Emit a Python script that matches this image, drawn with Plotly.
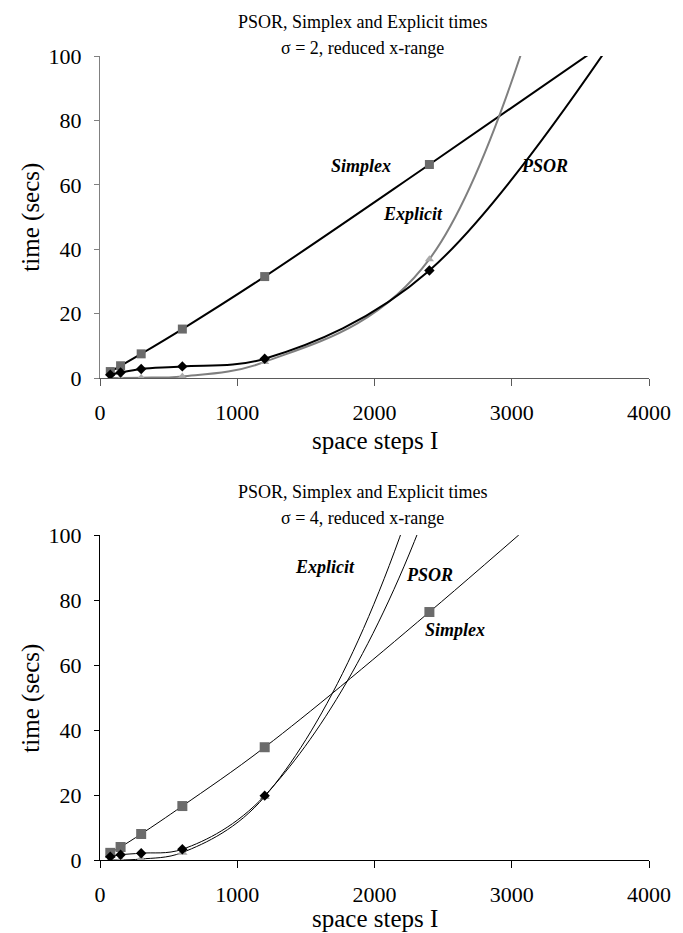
import plotly.graph_objects as go

# ---- data ----
steps = [75, 150, 300, 600, 1200, 2400, 4800]

simplex_s2 = [2.0, 3.8, 7.5, 15.2, 31.5, 66.3, 137]
psor_s2 = [1.0, 1.7, 2.8, 3.6, 6.0, 33.4, 175]
explicit_s2 = [0.0, 0.0, 0.1, 0.5, 5.0, 36.9, 420]

simplex_s4 = [2.2, 4.0, 8.0, 16.6, 34.7, 76.3, 165]
psor_s4 = [1.0, 1.6, 2.1, 3.3, 19.8, 110, 620]
explicit_s4 = [0.0, 0.0, 0.3, 2.3, 19.5, 127, 800]

x_ticks = [0, 1000, 2000, 3000, 4000]
y_ticks = [0, 20, 40, 60, 80, 100]

title_main = "PSOR, Simplex and Explicit times"
sub_s2 = "σ = 2, reduced x-range"
sub_s4 = "σ = 4, reduced x-range"

FONT = "Liberation Serif, Times New Roman, serif"
W, H = 683, 933
L, R, T, B = 100, 29, 56, 73


def px(xp):
    return (xp - L) / (W - L - R)


def py(yp):
    return (H - B - yp) / (H - T - B)


fig = go.Figure()

# top chart
fig.add_trace(go.Scatter(x=steps, y=simplex_s2, mode="lines+markers", line_shape="spline",
                         line=dict(color="black", width=2),
                         marker=dict(symbol="square", size=9, color="#6b6b6b"),
                         xaxis="x", yaxis="y", showlegend=False))
fig.add_trace(go.Scatter(x=steps, y=explicit_s2, mode="lines+markers", line_shape="spline",
                         line=dict(color="#7f7f7f", width=2),
                         marker=dict(symbol="triangle-up", size=8, color="#a9a9a9"),
                         xaxis="x", yaxis="y", showlegend=False))
fig.add_trace(go.Scatter(x=steps, y=psor_s2, mode="lines+markers", line_shape="spline",
                         line=dict(color="black", width=2),
                         marker=dict(symbol="diamond", size=8, color="black"),
                         xaxis="x", yaxis="y", showlegend=False))

# bottom chart
fig.add_trace(go.Scatter(x=steps, y=simplex_s4, mode="lines+markers", line_shape="spline",
                         line=dict(color="black", width=1),
                         marker=dict(symbol="square", size=10, color="#6b6b6b"),
                         xaxis="x2", yaxis="y2", showlegend=False))
fig.add_trace(go.Scatter(x=steps, y=explicit_s4, mode="lines+markers", line_shape="spline",
                         line=dict(color="black", width=1),
                         marker=dict(symbol="triangle-up", size=9, color="#a9a9a9"),
                         xaxis="x2", yaxis="y2", showlegend=False))
fig.add_trace(go.Scatter(x=steps, y=psor_s4, mode="lines+markers", line_shape="spline",
                         line=dict(color="black", width=1),
                         marker=dict(symbol="diamond", size=8, color="black"),
                         xaxis="x2", yaxis="y2", showlegend=False))

xcommon = dict(range=[0, 4000], tickvals=x_ticks, ticks="outside", ticklen=7,
               showgrid=False, zeroline=False, showline=True, linewidth=1,
               tickfont=dict(family=FONT, size=22, color="black"), ticklabelstandoff=8)
ycommon = dict(range=[0, 100], tickvals=y_ticks, ticks="outside", ticklen=5,
               showgrid=False, zeroline=False, showline=True, linewidth=1,
               tickfont=dict(family=FONT, size=22, color="black"), ticklabelstandoff=8)

top_dom = [py(378), 1.0]
bot_dom = [0.0, py(535)]

fig.update_layout(
    width=W, height=H,
    margin=dict(l=L, r=R, t=T, b=B),
    paper_bgcolor="white", plot_bgcolor="white",
    font=dict(family=FONT, color="black"),
    xaxis=dict(**xcommon, anchor="y", linecolor="#5a5a5a", tickcolor="#5a5a5a"),
    yaxis=dict(**ycommon, domain=top_dom, anchor="x", linecolor="#808080", tickcolor="#808080"),
    xaxis2=dict(**xcommon, anchor="y2", linecolor="black", tickcolor="black"),
    yaxis2=dict(**ycommon, domain=bot_dom, anchor="x2", linecolor="black", tickcolor="black"),
)

ann = []


def text(xp, yp, t, size, **kw):
    ann.append(dict(x=px(xp), y=py(yp), xref="paper", yref="paper", text=t, showarrow=False,
                    xanchor="center", yanchor="middle",
                    font=dict(family=FONT, size=size, color="black"), **kw))


# titles
text(365, 22, title_main, 18)
text(365, 48, sub_s2, 18)
text(365, 492, title_main, 18)
text(365, 518, sub_s4, 18)

# axis titles
text(378, 440, "space steps I", 25)
text(378, 918, "space steps I", 25)
text(30, 217, "time (secs)", 25, textangle=-90)
text(30, 698, "time (secs)", 25, textangle=-90)

# series labels
text(363, 166, "<b><i>Simplex</i></b>", 18)
text(416, 214, "<b><i>Explicit</i></b>", 18)
text(549, 166, "<b><i>PSOR</i></b>", 18)
text(327, 567, "<b><i>Explicit</i></b>", 18)
text(432, 575, "<b><i>PSOR</i></b>", 18)
text(458, 630, "<b><i>Simplex</i></b>", 18)

fig.update_layout(annotations=ann)

fig.write_html("out.html")
